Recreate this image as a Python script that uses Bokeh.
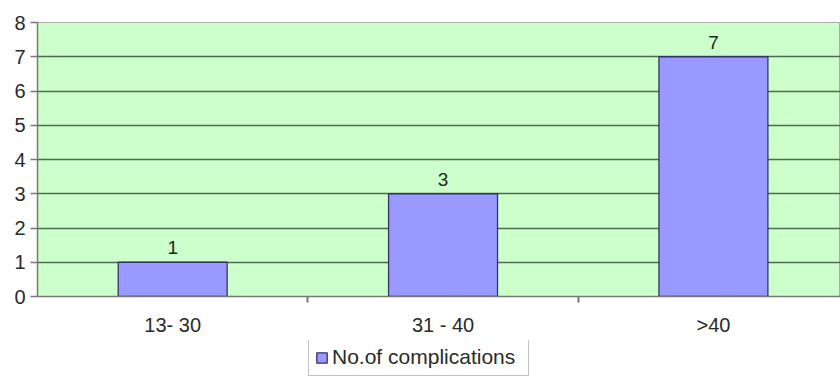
from bokeh.plotting import figure
from bokeh.layouts import column
from bokeh.models import (ColumnDataSource, Legend, LegendItem, Range1d,
                          SingleIntervalTicker, LinearAxis, FixedTicker)
from bokeh.core.properties import value
from bokeh.embed import file_html
from bokeh.resources import INLINE

categories = ["13- 30", "31 - 40", ">40"]
complications = [1, 3, 7]
labels = ["1", "3", "7"]

n = len(categories)
centres = [i + 0.5 for i in range(n)]          # category slot centres
src = ColumnDataSource(dict(x=centres, cat=categories, val=complications, lab=labels))
FONT = "Liberation Sans"

# the original plot area runs a little past the right edge of the picture
p = figure(x_range=Range1d(0, n * 0.99), y_range=Range1d(0, 8),
           width=840, height=340, output_backend="svg", toolbar_location=None,
           x_axis_location=None,
           min_border_left=37, min_border_right=0, min_border_top=22, min_border_bottom=44)
p.background_fill_color = "#ccffcc"
p.border_fill_color = "white"
p.outline_line_color = "#aaaaaa"

r = p.vbar(x="x", top="val", width=0.403, source=src, fill_color="#9999ff",
           line_color="#333366", line_width=1.3)
p.text(x="x", y="val", text="lab", source=src, text_align="center", text_baseline="bottom",
       y_offset=-8, text_font_size="19px", text_color="#1a2a1a", text_font=value(FONT))

# category axis: labels at the centres, tick marks at the boundaries
xaxis = LinearAxis(ticker=FixedTicker(ticks=centres, minor_ticks=list(range(1, n))),
                   major_label_overrides={c: cat for c, cat in zip(centres, categories)})
p.add_layout(xaxis, "below")

p.yaxis.ticker = SingleIntervalTicker(interval=1)
p.ygrid.grid_line_color = "#4f6b4f"
p.ygrid.grid_line_width = 1.6
p.xgrid.grid_line_color = None
for ax in (xaxis, p.yaxis[0]):
    ax.axis_line_color = "#777777"
    ax.axis_line_width = 1.5
    ax.major_tick_line_color = "#777777"
    ax.major_tick_line_width = 1.5
    ax.minor_tick_line_color = "#777777"
    ax.minor_tick_line_width = 2
    ax.major_label_text_font = FONT
    ax.major_label_text_font_size = "20px"
    ax.major_label_text_color = "#2a2a2a"
p.yaxis.minor_tick_line_color = None
p.yaxis.major_tick_in = 0
p.yaxis.major_tick_out = 7
p.yaxis.major_label_standoff = 5
xaxis.major_tick_in = 0
xaxis.major_tick_out = 0
xaxis.minor_tick_in = 0
xaxis.minor_tick_out = 6
xaxis.major_label_standoff = 11

leg = figure(width=840, height=38, output_backend="svg", toolbar_location=None,
             x_range=Range1d(0, 1), y_range=Range1d(0, 1), x_axis_location=None,
             y_axis_location=None, min_border=0)
leg.outline_line_color = None
leg.xgrid.grid_line_color = None
leg.ygrid.grid_line_color = None
# legend key renderer (its bar lies outside this strip's view)
lr = leg.vbar(x=[5], top=[5], bottom=[4], width=0.4, fill_color="#9999ff",
              line_color="#333366", line_width=1.3)
legend = Legend(items=[LegendItem(label="No.of complications", renderers=[lr])],
                location=(271, 2), orientation="horizontal",
                label_text_font=FONT, label_text_font_size="21px",
                label_text_color="#2a2a2a", border_line_color="#888888", border_line_width=1.5,
                glyph_width=13, glyph_height=13, label_standoff=4, label_height=20,
                label_width=190, padding=6, margin=0, spacing=0)
leg.add_layout(legend, "center")

open("out.html", "w").write(file_html(column(p, leg, spacing=0), INLINE))
